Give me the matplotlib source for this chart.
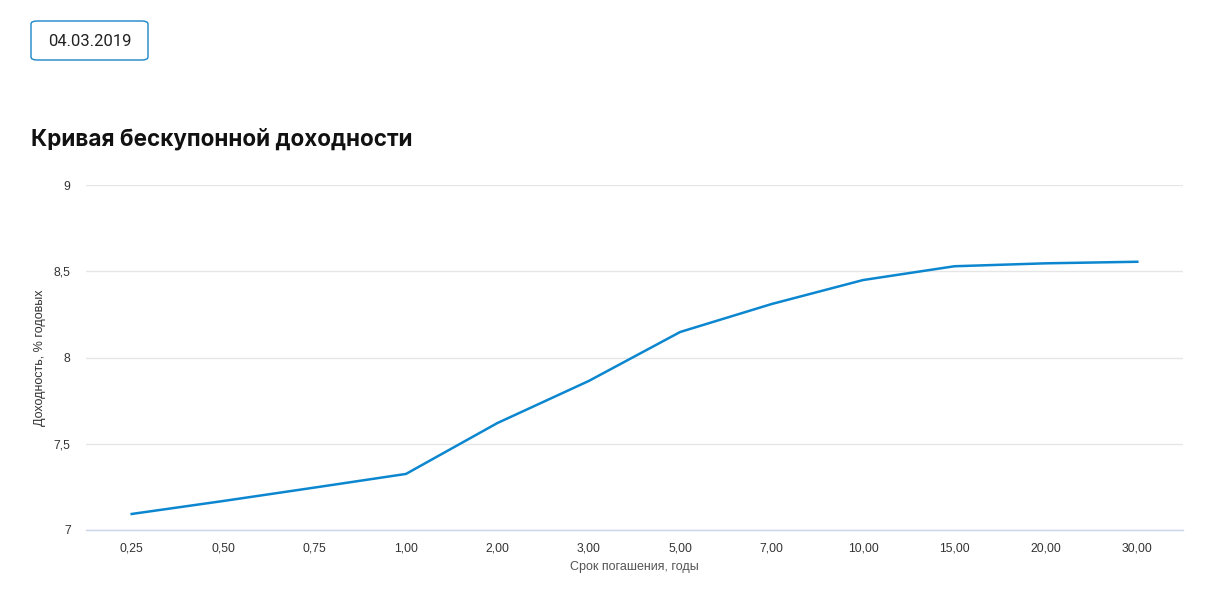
import matplotlib
matplotlib.use("Agg")
import matplotlib.pyplot as plt
from matplotlib.patches import FancyBboxPatch

# data
terms = ["0,25", "0,50", "0,75", "1,00", "2,00", "3,00", "5,00", "7,00", "10,00", "15,00", "20,00", "30,00"]
yields = [7.093, 7.168, 7.246, 7.325, 7.620, 7.864, 8.148, 8.310, 8.449, 8.529, 8.546, 8.555]
y_ticks = [7, 7.5, 8, 8.5, 9]
y_labels = ["7", "7,5", "8", "8,5", "9"]
date_text = "04.03.2019"
title = "Кривая бескупонной доходности"

W, H = 1209, 606
fig = plt.figure(figsize=(W / 100, H / 100), dpi=100)
fig.patch.set_facecolor("white")

# plot area in pixels: left 86, right 1183, top 185, bottom 530
ax = fig.add_axes([86 / W, 1 - 530 / H, (1183 - 86) / W, (530 - 185) / H])
x = list(range(len(terms)))
ax.plot(x, yields, color="#0c87cf", lw=1.8, solid_joinstyle="round")

ax.set_xlim(-0.5, len(terms) - 0.5)
ax.set_ylim(7, 9)
ax.set_yticks(y_ticks)
ax.set_yticklabels(y_labels)
ax.set_xticks(x)
ax.set_xticklabels(terms)
ax.tick_params(axis="both", length=0, labelsize=8.8, labelcolor="#333333",
               labelfontfamily="Liberation Sans")
ax.tick_params(axis="y", pad=11)
ax.tick_params(axis="x", pad=9)
ax.yaxis.grid(True, color="#e6e6e6", lw=1)
ax.set_axisbelow(True)
for s in ["left", "right", "top"]:
    ax.spines[s].set_visible(False)
ax.spines["bottom"].set_color("#ccd6eb")
ax.spines["bottom"].set_linewidth(1)

ax.set_xlabel("Срок погашения, годы", fontsize=9, color="#555555",
              family="Liberation Sans", labelpad=5)
ax.set_ylabel("Доходность, % годовых", fontsize=9, color="#333333",
              family="Liberation Sans", labelpad=6)

# title
fig.text(31 / W, 1 - 139 / H, title, fontsize=16.2, fontweight="bold",
         color="#111111", family="Inter", va="center", ha="left")

# date box
box = FancyBboxPatch((31 / W, 1 - 60 / H), (148 - 31) / W, (60 - 21) / H,
                     boxstyle="round,pad=0,rounding_size=0.005",
                     transform=fig.transFigure, facecolor="white",
                     edgecolor="#1a86c8", lw=1)
fig.patches.append(box)
fig.text(89.5 / W, 1 - 41 / H, date_text, fontsize=12, color="#222222",
         family="Roboto", ha="center", va="center")

fig.savefig("out.png", dpi=100, facecolor="white")
